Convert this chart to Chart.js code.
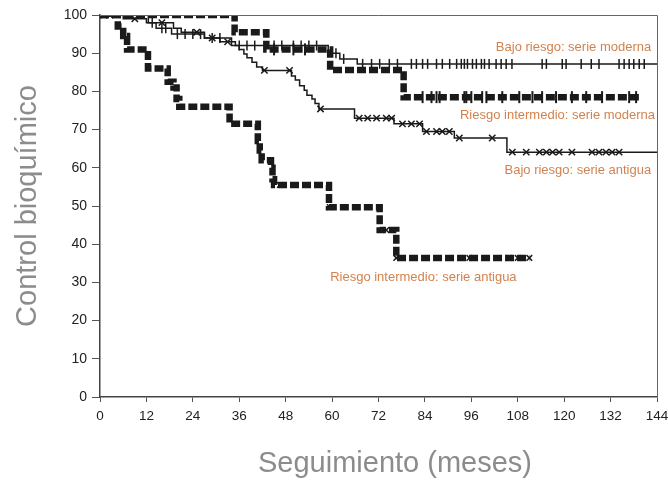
<!DOCTYPE html>
<html lang="es">
<head>
  <meta charset="UTF-8" />
  <title>Control bioquímico - seguimiento</title>
  <script src="https://cdn.jsdelivr.net/npm/chart.js"></script>
  <style>
    body {
      margin: 0;
      background: #fff;
    }
  </style>
</head>
<body>
  <canvas id="kmChart" width="668" height="480"></canvas>

  <script>
    // axis ticks
    const monthTicks = [0, 12, 24, 36, 48, 60, 72, 84, 96, 108, 120, 132, 144];
    const controlTicks = [0, 10, 20, 30, 40, 50, 60, 70, 80, 90, 100];

    // Bajo riesgo: serie moderna (solid, vertical censor ticks)
    const bajoModTime = [0, 12.5, 14.5, 18.5, 27, 34, 59, 62, 66.5, 144];
    const bajoModSurv = [100, 98, 96.5, 95, 94, 92, 90, 88.5, 87.2, 87.2];
    const bajoModCens = [13.5, 16, 17, 20, 22, 24, 26, 29, 31, 36, 38, 40, 45, 47, 50, 52, 54, 56, 61, 63,
      67.9, 70.2, 72.3, 74.8, 76.9, 80.5, 81.8, 83.4, 84.7, 87, 88.5, 90.4, 92.2, 93.4, 94.2, 95, 96.3, 97.3,
      98.6, 99.4, 100.6, 102.4, 103.7, 105, 106.5, 114.3, 115.4, 119.5, 120.5, 124.4, 127, 129, 134.2, 135.5,
      136.8, 138, 139.4, 140.7];

    // Riesgo intermedio: serie moderna (dashed, + censor marks)
    const intModTime = [0, 34.8, 43, 59.5, 78.5, 139.5];
    const intModSurv = [100, 95.5, 91, 85.6, 78.5, 78.5];
    const intModCens = [45, 50, 53, 83.4, 85.7, 87, 87.8, 94.2, 94.7, 96, 98.8, 99.9, 104, 108.4, 111.8,
      114.3, 117.9, 122, 125.7, 129.8, 136.8, 138.6];

    // Bajo riesgo: serie antigua (solid, x censor marks)
    const bajoAntTime = [0, 6, 12, 19, 21, 27, 31, 35, 36, 37.2, 38, 39.3, 40.5, 42, 49.5, 50.5, 51.6, 52.8,
      53.5, 54.8, 55.6, 56.6, 65.8, 76, 83.4, 91.6, 105.2, 144];
    const bajoAntSurv = [100, 99, 98, 96.5, 95.5, 94, 93, 92, 91, 89.8, 88.8, 87.6, 86.4, 85.5, 84, 83, 81.5, 80.3,
      79, 78, 76.8, 75.4, 73, 71.5, 69.5, 67.8, 64.1, 64.1];
    const bajoAntCens = [1, 2.5, 9, 16, 25, 29, 33, 42.5, 49, 57, 67, 69.2, 71.5, 74, 75.4, 78.2, 80.5, 82.6,
      84.4, 87, 88.5, 90.3, 92.9, 101.4, 106.6, 110.2, 113.6, 115.4, 117, 118.7, 122, 127.2, 129, 130.8,
      132.4, 134.2];

    // Riesgo intermedio: serie antigua (dashed, x censor marks)
    const intAntTime = [0, 4.6, 6, 7, 12.4, 17.5, 19, 19.8, 20.5, 33.5, 40.8, 41.3, 41.8, 44.2, 44.6, 45,
      59.2, 72.3, 76.6, 111];
    const intAntSurv = [100, 97, 94.5, 91, 86, 82.5, 81, 78, 76, 71.5, 67, 64.5, 62, 60, 57, 55.5, 49.7,
      43.7, 36.4, 36.4];
    const intAntCens = [46.5, 56.3, 59.4, 74, 76.6, 95.5, 105.8, 108, 111];

    const curveLabels = [
      'Bajo riesgo: serie moderna',
      'Riesgo intermedio: serie moderna',
      'Bajo riesgo: serie antigua',
      'Riesgo intermedio: serie antigua'
    ];

    function levelAt(times, surv, t) {
      let v = surv[0];
      for (let i = 0; i < times.length; i++) {
        if (times[i] <= t) v = surv[i];
      }
      return v;
    }

    function pts(times, surv) {
      return times.map((t, i) => ({ x: t, y: surv[i] }));
    }

    function censPts(times, surv, cens) {
      return cens.map(t => ({ x: t, y: levelAt(times, surv, t) }));
    }

    const ink = '#1a1a1a';

    function curve(data, dashed) {
      return {
        data: data,
        stepped: 'before',
        borderColor: ink,
        borderWidth: dashed ? 6.5 : 1.5,
        borderDash: dashed ? [9, 3] : [],
        borderCapStyle: 'butt',
        pointRadius: 0,
        fill: false
      };
    }

    function marks(data, style, radius, width) {
      return {
        data: data,
        showLine: false,
        pointStyle: style,
        rotation: style === 'line' ? 90 : 0,
        pointRadius: radius,
        pointBorderWidth: width,
        pointBorderColor: ink,
        pointBackgroundColor: ink
      };
    }

    // text placed next to each curve (data coordinates)
    const labelPlugin = {
      id: 'curveLabels',
      afterDraw(chart) {
        const { ctx, chartArea, scales } = chart;
        const x = scales.x, y = scales.y;
        ctx.save();
        // frame on top and right
        ctx.strokeStyle = '#666';
        ctx.lineWidth = 1;
        ctx.beginPath();
        ctx.moveTo(chartArea.left, chartArea.top + 0.5);
        ctx.lineTo(chartArea.right + 0.5, chartArea.top + 0.5);
        ctx.lineTo(chartArea.right + 0.5, chartArea.bottom);
        ctx.stroke();

        ctx.fillStyle = '#d2824e';
        ctx.font = '13px "Liberation Sans", Arial, sans-serif';
        ctx.textBaseline = 'middle';
        const spots = [
          [142.5, 91.6, 'right'],
          [143.5, 73.8, 'right'],
          [142.5, 59.4, 'right'],
          [83.6, 31.2, 'center']
        ];
        spots.forEach((s, i) => {
          ctx.textAlign = s[2];
          ctx.fillText(curveLabels[i], x.getPixelForValue(s[0]), y.getPixelForValue(s[1]));
        });

        ctx.fillStyle = '#8c8c8c';
        ctx.font = '29px "Liberation Sans", Arial, sans-serif';
        ctx.textAlign = 'center';
        ctx.textBaseline = 'alphabetic';
        ctx.fillText('Seguimiento (meses)', 395, 472);
        ctx.restore();
      }
    };

    new Chart(document.getElementById('kmChart'), {
      type: 'line',
      data: {
        datasets: [
          marks(censPts(bajoModTime, bajoModSurv, bajoModCens), 'line', 5, 1.5),
          marks(censPts(intModTime, intModSurv, intModCens), 'line', 6, 2),
          marks(censPts(bajoAntTime, bajoAntSurv, bajoAntCens), 'crossRot', 4.5, 1.5),
          marks(censPts(intAntTime, intAntSurv, intAntCens), 'crossRot', 4, 1.5),
          curve(pts(bajoModTime, bajoModSurv), false),
          curve(pts(intModTime, intModSurv), true),
          curve(pts(bajoAntTime, bajoAntSurv), false),
          curve(pts(intAntTime, intAntSurv), true)
        ]
      },
      options: {
        responsive: false,
        animation: false,
        devicePixelRatio: 1,
        layout: { padding: { top: 15, right: 11 } },
        plugins: {
          legend: { display: false },
          tooltip: { enabled: false }
        },
        scales: {
          x: {
            type: 'linear',
            min: 0,
            max: 144,
            afterBuildTicks: s => { s.ticks = monthTicks.map(v => ({ value: v })); },
            afterFit: s => {
              s.height = 83;
              s.paddingLeft = 0;
              s.paddingRight = 0;
            },
            grid: { drawOnChartArea: false, tickLength: 5, color: '#555' },
            border: { color: '#444', width: 1.5 },
            ticks: {
              color: '#222',
              padding: 6,
              maxRotation: 0,
              font: { family: 'Liberation Sans', size: 13.5 }
            }
          },
          y: {
            min: 0,
            max: 100,
            afterBuildTicks: s => { s.ticks = controlTicks.map(v => ({ value: v })); },
            afterFit: s => { s.width = 100; },
            grid: { drawOnChartArea: false, tickLength: 8, color: '#555' },
            border: { color: '#444', width: 1.5 },
            ticks: {
              color: '#222',
              padding: 5,
              font: { family: 'Liberation Sans', size: 14 }
            },
            title: {
              display: true,
              text: 'Control bioquímico',
              color: '#8c8c8c',
              font: { family: 'Liberation Sans', size: 29, lineHeight: 1 },
              padding: { top: 13 }
            }
          }
        }
      },
      plugins: [labelPlugin]
    });
  </script>
</body>
</html>
